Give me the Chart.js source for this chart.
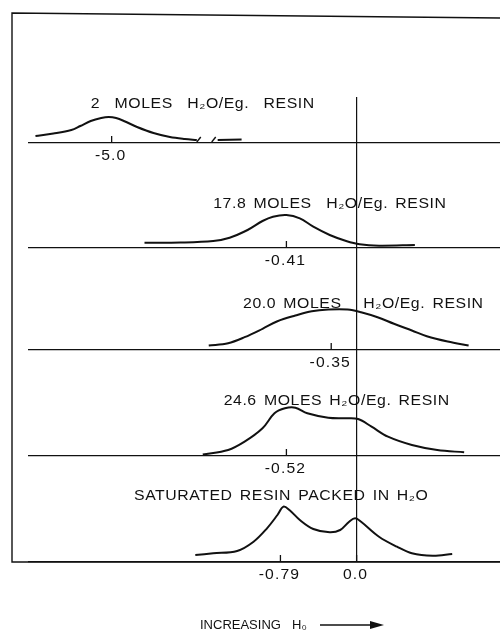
<!DOCTYPE html>
<html>
<head>
<meta charset="utf-8">
<script src="https://cdn.jsdelivr.net/npm/chart.js@4.4.0/dist/chart.umd.min.js"></script>
<style>
html, body { margin: 0; padding: 0; background: #fff; }
</style>
</head>
<body>
<canvas id="nmr" width="500" height="635"></canvas>
<script>
// shift axis is in arbitrary chart units, 0 = the 0.0 reference line
const panelTitles = [
    '2  MOLES  H₂O/Eg.  RESIN',
    '17.8 MOLES  H₂O/Eg. RESIN',
    '20.0 MOLES   H₂O/Eg. RESIN',
    '24.6 MOLES H₂O/Eg. RESIN',
    'SATURATED RESIN PACKED IN H₂O',
];
const peakPositions = [[-82], [-23.5], [-8.5], [-23.5], [-25.5, 0]];
const peakLabels = [['-5.0'], ['-0.41'], ['-0.35'], ['-0.52'], ['-0.79', '0.0']];

const shift1 = [-107.5, -101.5, -95.5, -92.5, -89, -85.5, -83, -80.5, -77.5, -73.5, -68, -62.5, -57.5, -53.5, -50, -46.5, -38.5];
const signal1 = [7, 9.5, 13, 17, 22, 25, 26, 25, 21.5, 16, 10, 6, 4, 3, null, 3, 3.5];

const shift2 = [-71, -59, -48, -42.5, -36.5, -31.5, -28, -23.5, -19, -14.5, -9, -3.5, 1, 7.5, 19.5];
const signal2 = [5.3, 5.5, 7, 10.3, 18, 27, 31.3, 33, 29.7, 21.3, 13, 7, 3.7, 2.3, 3];

const shift3 = [-49.5, -43, -37.5, -31.5, -26.5, -20.5, -15, -9.5, -3, 1.5, 7, 12.5, 18.5, 23.5, 30.5, 37.5];
const signal3 = [4.5, 6.8, 12.8, 21.2, 28.8, 34.5, 38.8, 40.5, 40.5, 37.8, 32.8, 26.2, 19.5, 13.8, 8.5, 4.5];

const shift4 = [-51.5, -43, -37.5, -31.5, -27.5, -24, -20.5, -16.5, -9.5, -4, 0.5, 5, 10.5, 18.5, 27, 36];
const signal4 = [1.5, 6, 14.3, 27.7, 42.7, 47.7, 48.3, 42.7, 38.3, 37.7, 37, 29.3, 19.3, 11, 6, 3.7];

const shift5 = [-54, -48, -40, -34.5, -30, -26.5, -24.5, -22.5, -19, -14.5, -9, -5.5, -2.5, -0.5, 1.5, 7.5, 13.5, 18.5, 25.5, 32];
const signal5 = [7, 8.7, 11, 20.3, 33.7, 47, 55.3, 52, 42, 33, 29.7, 32, 40.3, 43.7, 40.3, 25.3, 15.3, 8.7, 6.3, 8];

const shifts = [shift1, shift2, shift3, shift4, shift5];
const signals = [signal1, signal2, signal3, signal4, signal5];

// layout of the stacked panels (signal units above each baseline)
const panelHeights = [130, 105, 102, 106, 106];
const titleAt = [[-89, 35], [-48, 40], [-38, 42.5], [-44.5, 51], [-74.5, 62]];
const refLineTop = 46;
const INK = '#111';
const FONT = '"Liberation Sans", Arial, sans-serif';

const yScales = {};
panelHeights.forEach((h, i) => {
    yScales['y' + (i + 1)] = {
        type: 'linear',
        position: 'right',
        stack: 'panels',
        stackWeight: h,
        min: 0,
        max: h,
        afterBuildTicks: (axis) => { axis.ticks = [{ value: 0 }]; },
        ticks: { display: false },
        border: { display: false },
        grid: { drawTicks: false, color: INK, lineWidth: 1.3 },
    };
});

// stretched lettering, like the stencil text of the original
const drawStretched = (ctx, text, x, y, sx) => {
    ctx.save();
    ctx.translate(x, y);
    ctx.scale(sx, 1);
    ctx.fillText(text, 0, 0);
    ctx.restore();
};

const decor = {
    id: 'decor',
    afterDraw(chart) {
        const { ctx, chartArea, scales } = chart;
        const x = scales.x;
        ctx.save();
        ctx.strokeStyle = INK;
        ctx.fillStyle = INK;

        // frame
        ctx.lineWidth = 1.4;
        ctx.beginPath();
        ctx.moveTo(500, 18);
        ctx.lineTo(12, 13);
        ctx.lineTo(12, chartArea.bottom);
        ctx.lineTo(500, chartArea.bottom);
        ctx.stroke();

        // 0.0 reference line
        const x0 = x.getPixelForValue(0);
        ctx.lineWidth = 1.2;
        ctx.beginPath();
        ctx.moveTo(x0, scales.y1.getPixelForValue(refLineTop));
        ctx.lineTo(x0, chartArea.bottom);
        ctx.stroke();

        // peak ticks and labels
        ctx.font = '14px ' + FONT;
        ctx.textAlign = 'center';
        ctx.textBaseline = 'middle';
        ctx.letterSpacing = '1px';
        peakPositions.forEach((list, i) => {
            const ys = scales['y' + (i + 1)];
            const base = ys.getPixelForValue(0);
            list.forEach((pos, j) => {
                const px = x.getPixelForValue(pos);
                ctx.lineWidth = 1.3;
                ctx.beginPath();
                ctx.moveTo(px, base);
                ctx.lineTo(px, base - 7);
                ctx.stroke();
                drawStretched(ctx, peakLabels[i][j], px - 1, base + 13, 1.12);
            });
        });

        // panel titles
        ctx.font = '14px ' + FONT;
        ctx.textAlign = 'left';
        ctx.textBaseline = 'alphabetic';
        ctx.letterSpacing = '0.5px';
        ctx.wordSpacing = '2px';
        panelTitles.forEach((t, i) => {
            const ys = scales['y' + (i + 1)];
            drawStretched(ctx, t, x.getPixelForValue(titleAt[i][0]), ys.getPixelForValue(titleAt[i][1]), 1.13);
        });
        ctx.letterSpacing = '0px';
        ctx.wordSpacing = '0px';

        // break marks on the first trace
        const by = scales.y1.getPixelForValue(3);
        [-52.5, -47.5].forEach((v) => {
            const bx = x.getPixelForValue(v);
            ctx.lineWidth = 1.4;
            ctx.beginPath();
            ctx.moveTo(bx - 3, by + 2);
            ctx.lineTo(bx + 1, by - 3);
            ctx.stroke();
        });

        // footer
        ctx.font = '13px ' + FONT;
        ctx.textBaseline = 'middle';
        ctx.fillText('INCREASING', 200, 625);
        ctx.fillText('H₀', 292, 625);
        ctx.lineWidth = 1.4;
        ctx.beginPath();
        ctx.moveTo(320, 625);
        ctx.lineTo(375, 625);
        ctx.stroke();
        ctx.beginPath();
        ctx.moveTo(384, 625);
        ctx.lineTo(370, 621);
        ctx.lineTo(370, 629);
        ctx.closePath();
        ctx.fill();
        ctx.restore();
    },
};

new Chart(document.getElementById('nmr'), {
    type: 'line',
    data: {
        datasets: shifts.map((xs, i) => ({
            label: panelTitles[i],
            data: xs.map((v, k) => ({ x: v, y: signals[i][k] })),
            yAxisID: 'y' + (i + 1),
            borderColor: INK,
            borderWidth: 2,
            pointRadius: 0,
            fill: false,
            spanGaps: false,
            tension: 0.35,
        })),
    },
    options: {
        responsive: false,
        animation: false,
        layout: { padding: { left: 28, right: 0, top: 13, bottom: 73 } },
        plugins: { legend: { display: false }, tooltip: { enabled: false } },
        scales: {
            x: { type: 'linear', min: -110, max: 48, display: false },
            ...yScales,
        },
    },
    plugins: [decor],
});
</script>
</body>
</html>
